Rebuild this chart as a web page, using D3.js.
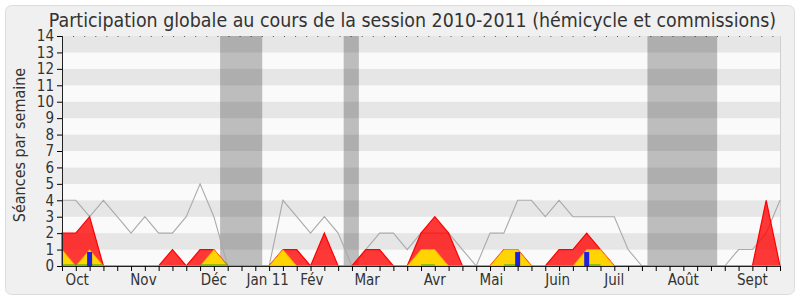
<!DOCTYPE html>
<html>
<head>
<meta charset="utf-8">
<script src="https://cdn.jsdelivr.net/npm/d3@7"></script>
<style>
  body { margin: 0; background: #fff; }
  text { font-family: "DejaVu Sans Condensed", "DejaVu Sans", sans-serif; fill: #333; }
</style>
</head>
<body>
<div id="chart"></div>
<script>
// weekly values, session 2010-2011 (week 0 = early October)
const weeks = d3.range(53);
const presenceMedian = [4, 4, 3, 4, 3, 2, 3, 2, 2, 3, 5, 3, 0, 0, 0, 0, 4, 3, 2, 3,
    2, 0, 1, 2, 2, 1, 2, 2, 2, 1, 0, 2, 2, 4, 4, 3, 4, 3, 3, 3,
    3, 1, 0, 0, 0, 0, 0, 0, 0, 1, 1, 2, 4];
const seancesTotal = [2, 2, 3, 0, 0, 0, 0, 0, 1, 0, 1, 1, 0, 0, 0, 0, 1, 1, 0, 2,
    0, 0, 1, 1, 0, 0, 2, 3, 2, 0, 0, 0, 1, 1, 0, 0, 1, 1, 2, 1,
    0, 0, 0, 0, 0, 0, 0, 0, 0, 0, 0, 4, 0];
const seancesHemicycle = [1, 0, 1, 0, 0, 0, 0, 0, 0, 0, 0, 1, 0, 0, 0, 0, 1, 0, 0, 0,
    0, 0, 0, 0, 0, 0, 1, 1, 0, 0, 0, 0, 1, 1, 0, 0, 0, 0, 1, 1,
    0, 0, 0, 0, 0, 0, 0, 0, 0, 0, 0, 0, 0];
const questionsWeeks = [2, 33, 38];
const questionsValues = [0.85, 0.85, 0.85];
const greenSpans = [[0, 3], [10, 12], [26, 27], [32, 33], [38, 39]];
const vacances = [[11.45, 14.5], [20.4, 21.5], [42.4, 47.45]];
const monthLabels = ["Oct", "Nov", "Déc", "Jan 11", "Fév", "Mar", "Avr", "Mai", "Juin", "Juil", "Août", "Sept"];
const monthWeeks = [1.1, 5.9, 11, 14.9, 18.1, 22.1, 27, 31.1, 35.9, 40, 45, 50];
const yTicks = d3.range(0, 15);

const width = 800, height = 300;
const margin = { left: 62, right: 20, top: 36, bottom: 34 };
const chartWidth = width - margin.left - margin.right;
const chartHeight = height - margin.top - margin.bottom;

const svg = d3.select("#chart").append("svg")
    .attr("width", width)
    .attr("height", height);

// outer panel
svg.append("rect")
    .attr("x", 5.5).attr("y", 5.5)
    .attr("width", 789).attr("height", 289)
    .attr("rx", 6)
    .attr("fill", "#f0f0f0")
    .attr("stroke", "#dcdcdc");

svg.append("text")
    .attr("x", 412.5)
    .attr("y", 27)
    .attr("text-anchor", "middle")
    .style("font-size", "19.4px")
    .text("Participation globale au cours de la session 2010-2011 (hémicycle et commissions)");

const xScale = d3.scaleLinear().domain([0, 52]).range([0, chartWidth]);
const yScale = d3.scaleLinear().domain([0, 14]).range([chartHeight, 0]);

const g = svg.append("g")
    .attr("transform", "translate(" + margin.left + "," + margin.top + ")");

// alternating bands
g.selectAll(".band").data(d3.range(14))
    .enter().append("rect")
    .attr("x", 0)
    .attr("width", chartWidth)
    .attr("y", (d) => yScale(d + 1))
    .attr("height", (d) => yScale(d) - yScale(d + 1))
    .attr("fill", (d) => d % 2 ? "#e6e6e6" : "#fafafa");

g.append("line")
    .attr("x1", chartWidth + 0.5).attr("x2", chartWidth + 0.5)
    .attr("y1", 0).attr("y2", chartHeight)
    .attr("stroke", "#d0d0d0");

g.append("line")
    .attr("x1", 0).attr("x2", chartWidth)
    .attr("y1", 0.5).attr("y2", 0.5)
    .attr("stroke", "#555")
    .attr("stroke-dasharray", "1,10.1");

// holidays
g.selectAll(".vac").data(vacances)
    .enter().append("rect")
    .attr("x", (d) => xScale(d[0]))
    .attr("width", (d) => xScale(d[1]) - xScale(d[0]))
    .attr("y", 0)
    .attr("height", chartHeight)
    .attr("fill", "#000")
    .attr("fill-opacity", 0.245);

// median line
const line = d3.line()
    .x((d, i) => xScale(i))
    .y((d) => yScale(d));

g.append("path")
    .datum(presenceMedian)
    .attr("d", line)
    .attr("fill", "none")
    .attr("stroke", "#aaaaaa")
    .attr("stroke-width", 1.1);

const area = d3.area()
    .x((d, i) => xScale(i))
    .y0(yScale(0))
    .y1((d) => yScale(d));

g.append("path")
    .datum(seancesTotal)
    .attr("d", area)
    .attr("fill", "#ff0000")
    .attr("fill-opacity", 0.78)
    .attr("stroke", "#ff0000")
    .attr("stroke-width", 1.2);

g.append("path")
    .datum(seancesHemicycle)
    .attr("d", area)
    .attr("fill", "#ffd400")
    .attr("stroke", "#ff9900")
    .attr("stroke-opacity", 0.8)
    .attr("stroke-width", 1);

// green line along zero
g.selectAll(".green").data(greenSpans)
    .enter().append("line")
    .attr("x1", (d) => xScale(d[0]))
    .attr("x2", (d) => xScale(d[1]))
    .attr("y1", yScale(0) - 1)
    .attr("y2", yScale(0) - 1)
    .attr("stroke", "#22aa22")
    .attr("stroke-width", 1);

// questions bars
g.selectAll(".bar").data(questionsWeeks)
    .enter().append("rect")
    .attr("x", (d) => xScale(d) - 2.5)
    .attr("width", 5)
    .attr("y", (d, i) => yScale(questionsValues[i]))
    .attr("height", (d, i) => yScale(0) - yScale(questionsValues[i]))
    .attr("fill", "#2020e0");

// axes
const xAxis = d3.axisBottom(xScale).tickValues(weeks).tickSize(5).tickFormat("");
g.append("g")
    .attr("class", "axis x")
    .attr("transform", "translate(0," + chartHeight + ")")
    .call(xAxis)
    .call((a) => a.select(".domain").attr("stroke", "#222"));

const yAxis = d3.axisLeft(yScale).tickValues(yTicks).tickSize(5).tickPadding(3);
g.append("g")
    .attr("class", "axis y")
    .call(yAxis)
    .call((a) => a.select(".domain").attr("stroke", "#222"))
    .call((a) => a.selectAll("text")
        .style("font-family", "'DejaVu Sans Condensed', 'DejaVu Sans', sans-serif")
        .style("font-size", "15px")
        .attr("fill", "#333"));

g.selectAll(".month").data(monthLabels)
    .enter().append("text")
    .attr("x", (d, i) => xScale(monthWeeks[i]))
    .attr("y", chartHeight + 19)
    .attr("text-anchor", "middle")
    .style("font-size", "15px")
    .text((d) => d);

svg.append("text")
    .attr("transform", "translate(25," + (margin.top + chartHeight / 2 - 6) + ") rotate(-90)")
    .attr("text-anchor", "middle")
    .style("font-size", "16px")
    .text("Séances par semaine");
</script>
</body>
</html>
